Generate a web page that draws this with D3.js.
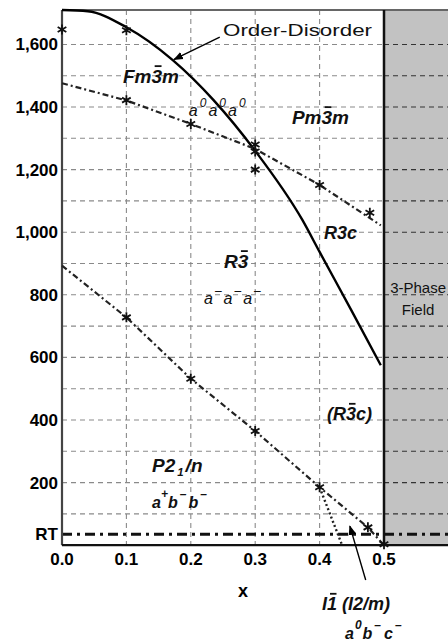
<!DOCTYPE html>
<html>
<head>
<meta charset="utf-8">
<script src="https://cdn.jsdelivr.net/npm/d3@7"></script>
<style>
  body { margin: 0; background: #fff; }
  svg { display: block; }
  text { font-family: "Liberation Sans", Arial, sans-serif; }
</style>
</head>
<body>
<div id="chart"></div>
<script>
// axis ticks
const xTicks = [0, 0.1, 0.2, 0.3, 0.4, 0.5];
const xTickLabels = ["0.0", "0.1", "0.2", "0.3", "0.4", "0.5"];
const yTicks = [200, 400, 600, 800, 1000, 1200, 1400, 1600];
const yTickLabels = ["200", "400", "600", "800", "1,000", "1,200", "1,400", "1,600"];
const gridX = [0.1, 0.2, 0.3, 0.4];
const gridY = [100, 200, 300, 400, 500, 600, 700, 800, 900, 1000, 1100, 1200, 1300, 1400, 1500, 1600];
const rtTemp = 35;
const threePhaseFrom = 0.5;

// order-disorder boundary (solid)
const odX = [0, 0.04, 0.1, 0.172, 0.235, 0.3, 0.373, 0.4, 0.45, 0.495];
const odT = [1710, 1706, 1655, 1550, 1423, 1260, 1040, 937, 748, 575];

// Fm3m / Pm3m -> R3bar / R3c tilt boundary (dash-dot, upper)
const upX = [0, 0.1, 0.2, 0.3, 0.4, 0.495];
const upT = [1476, 1421, 1346, 1266, 1151, 1022];

// R3bar -> P21/n boundary (dash-dot, lower)
const loX = [0, 0.1, 0.2, 0.3, 0.4, 0.475, 0.5];
const loT = [893, 728, 532, 365, 185, 57, 0];

// I-1 boundary (dotted)
const dotX = [0.4, 0.435];
const dotT = [185, 0];

// measured points (stars)
const starX = [0, 0.1, 0.1, 0.2, 0.3, 0.3, 0.3, 0.4, 0.478, 0.1, 0.2, 0.3, 0.4, 0.475, 0.5];
const starT = [1648, 1645, 1422, 1346, 1280, 1258, 1200, 1151, 1062, 728, 532, 365, 185, 57, 3];

const W = 448, H = 641;
const x = d3.scaleLinear().domain([0, 0.6]).range([62, 448.4]);
const y = d3.scaleLinear().domain([0, 1710]).range([545.2, 10]);

const svg = d3.select("#chart").append("svg").attr("width", W).attr("height", H);

// 3-phase field
svg.append("rect")
  .attr("x", x(threePhaseFrom)).attr("y", y(1710))
  .attr("width", x(0.6) - x(threePhaseFrom)).attr("height", y(0) - y(1710))
  .attr("fill", "#c2c2c2");

// grid
svg.append("g").selectAll("line").data(gridY).join("line")
  .attr("x1", x(0)).attr("x2", x(threePhaseFrom))
  .attr("y1", d => y(d)).attr("y2", d => y(d))
  .attr("stroke", "#8a8a8a").attr("stroke-width", 1.1).attr("stroke-dasharray", "5,4");
svg.append("g").selectAll("line").data(gridY).join("line")
  .attr("x1", x(threePhaseFrom)).attr("x2", x(0.6))
  .attr("y1", d => y(d)).attr("y2", d => y(d))
  .attr("stroke", "#333").attr("stroke-width", 1.1).attr("stroke-dasharray", "5,4");
svg.append("g").selectAll("line").data(gridX).join("line")
  .attr("x1", d => x(d)).attr("x2", d => x(d))
  .attr("y1", y(1710)).attr("y2", y(0))
  .attr("stroke", "#8a8a8a").attr("stroke-width", 1.1).attr("stroke-dasharray", "5,4");

// RT line
svg.append("line")
  .attr("x1", x(0)).attr("x2", x(0.6)).attr("y1", y(rtTemp)).attr("y2", y(rtTemp))
  .attr("stroke", "#111").attr("stroke-width", 3).attr("stroke-dasharray", "10,5,3,5");

// frame
svg.append("line").attr("x1", x(0)).attr("x2", x(0.6)).attr("y1", y(1710)).attr("y2", y(1710))
  .attr("stroke", "#666").attr("stroke-width", 2);
svg.append("line").attr("x1", x(0)).attr("x2", x(0)).attr("y1", y(1710)).attr("y2", y(0))
  .attr("stroke", "#444").attr("stroke-width", 2.2);
svg.append("line").attr("x1", x(0)).attr("x2", x(0.6)).attr("y1", y(0)).attr("y2", y(0))
  .attr("stroke", "#111").attr("stroke-width", 2.2);
svg.append("line").attr("x1", x(threePhaseFrom)).attr("x2", x(threePhaseFrom))
  .attr("y1", y(1710)).attr("y2", y(0))
  .attr("stroke", "#111").attr("stroke-width", 2.5);

// axes labels
svg.append("g").selectAll("text").data(yTicks).join("text")
  .attr("x", x(0) - 4).attr("y", d => y(d) + 6)
  .attr("text-anchor", "end").attr("font-size", 17).attr("font-weight", "bold")
  .text((d, i) => yTickLabels[i]);
svg.append("text").attr("x", x(0) - 4).attr("y", y(rtTemp) + 6)
  .attr("text-anchor", "end").attr("font-size", 17).attr("font-weight", "bold").text("RT");
svg.append("g").selectAll("text").data(xTicks).join("text")
  .attr("x", d => x(d)).attr("y", y(0) + 20)
  .attr("text-anchor", "middle").attr("font-size", 17).attr("font-weight", "bold")
  .text((d, i) => xTickLabels[i]);
svg.append("text").attr("x", x(0.281)).attr("y", y(-166))
  .attr("text-anchor", "middle").attr("font-size", 18).attr("font-weight", "bold").text("x");

// lines
const line = (xs, ts, curve) => d3.line().x((d, i) => x(xs[i])).y((d, i) => y(ts[i])).curve(curve || d3.curveLinear)(xs);

svg.append("path").attr("d", line(odX, odT, d3.curveMonotoneX))
  .attr("fill", "none").attr("stroke", "#000").attr("stroke-width", 2.4);
svg.append("path").attr("d", line(upX, upT))
  .attr("fill", "none").attr("stroke", "#222").attr("stroke-width", 2.2).attr("stroke-dasharray", "6,3,2,3");
svg.append("path").attr("d", line(loX, loT))
  .attr("fill", "none").attr("stroke", "#222").attr("stroke-width", 2.2).attr("stroke-dasharray", "6,3,2,3");
svg.append("path").attr("d", line(dotX, dotT))
  .attr("fill", "none").attr("stroke", "#222").attr("stroke-width", 2.4).attr("stroke-dasharray", "2,2.5");

// stars
svg.append("g").selectAll("path").data(starX).join("path")
  .attr("transform", (d, i) => `translate(${x(d)},${y(starT[i])})`)
  .attr("d", d3.symbol().type(d3.symbolAsterisk).size(70))
  .attr("fill", "none").attr("stroke", "#111").attr("stroke-width", 1.8);

// arrows
const defs = svg.append("defs");
defs.append("marker").attr("id", "ah").attr("viewBox", "0 0 10 10")
  .attr("refX", 9).attr("refY", 5).attr("markerWidth", 7).attr("markerHeight", 7)
  .attr("orient", "auto")
  .append("path").attr("d", "M0,1 L10,5 L0,9 z").attr("fill", "#000");
const arrows = [[0.245, 1623, 0.174, 1552], [0.4716, -111, 0.447, 61]];
svg.append("g").selectAll("line").data(arrows).join("line")
  .attr("x1", d => x(d[0])).attr("y1", d => y(d[1]))
  .attr("x2", d => x(d[2])).attr("y2", d => y(d[3]))
  .attr("stroke", "#000").attr("stroke-width", 1.4).attr("marker-end", "url(#ah)");

// rich text helper (sup / sub / overbar)
function rich(px, py, size, parts, opts) {
  opts = opts || {};
  const t = svg.append("text").attr("x", px).attr("y", py).attr("font-size", size)
    .attr("font-style", "italic").attr("font-weight", opts.bold ? "bold" : "normal").attr("fill", "#111");
  let cur = 0;
  parts.forEach(p => {
    const target = p.sup ? -size * 0.6 : (p.sub ? size * 0.22 : 0);
    t.append("tspan").attr("dy", target - cur).attr("dx", p.dx || 0)
      .attr("font-size", p.sup ? size * 0.75 : (p.sub ? size * 0.6 : size)).text(p.t);
    cur = target;
  });
  (opts.bar || []).forEach(i => {
    const e = t.node().getExtentOfChar(i);
    svg.append("line")
      .attr("x1", e.x + e.width * 0.3).attr("x2", e.x + e.width * 0.95)
      .attr("y1", py - size * 0.9).attr("y2", py - size * 0.9)
      .attr("stroke", "#111").attr("stroke-width", 1.8);
  });
  return t;
}

svg.append("text").attr("x", x(0.25)).attr("y", y(1626))
  .attr("font-family", "'DejaVu Sans', sans-serif").attr("font-size", 17).attr("fill", "#111")
  .attr("textLength", 149).attr("lengthAdjust", "spacingAndGlyphs").text("Order-Disorder");

rich(x(0.0947), y(1476), 19, [{t: "Fm3m"}], {bold: true, bar: [2]});
rich(x(0.357), y(1345), 19, [{t: "Pm3m"}], {bold: true, bar: [2]});
rich(x(0.407), y(978), 18, [{t: "R3c"}], {bold: true});
rich(x(0.2516), y(885), 19, [{t: "R3"}], {bold: true, bar: [1]});
rich(x(0.4115), y(400), 18, [{t: "(R3c)"}], {bold: true, bar: [2]});
rich(x(0.1398), y(234), 19, [{t: "P2"}, {t: "1", sub: true, dx: 2}, {t: "/n", dx: 2}], {bold: true});
rich(x(0.4037), y(-207), 18, [{t: "I1 (I2/m)"}], {bold: true, bar: [1]});

rich(x(0.197), y(1371), 16, [{t: "a"}, {t: "0", sup: true, dx: 2}, {t: "a", dx: 2}, {t: "0", sup: true, dx: 2}, {t: "a", dx: 2}, {t: "0", sup: true, dx: 2}]);
rich(x(0.2205), y(770), 16, [{t: "a"}, {t: "\u2013", sup: true, dx: 2}, {t: "a", dx: 2}, {t: "\u2013", sup: true, dx: 2}, {t: "a", dx: 2}, {t: "\u2013", sup: true, dx: 2}]);
rich(x(0.1398), y(119), 16, [{t: "a"}, {t: "+", sup: true, dx: 0}, {t: "b", dx: 0}, {t: "\u2013", sup: true, dx: 2}, {t: "b", dx: 2}, {t: "\u2013", sup: true, dx: 2}], {bold: true});
rich(x(0.4394), y(-300), 16, [{t: "a"}, {t: "0", sup: true, dx: 1}, {t: "b", dx: 1}, {t: "\u2013", sup: true, dx: 2}, {t: "c", dx: 3}, {t: "\u2013", sup: true, dx: 2}], {bold: true});

svg.append("text").attr("x", x(0.553)).attr("y", y(806)).attr("text-anchor", "middle")
  .attr("font-size", 15).attr("fill", "#111").text("3-Phase");
svg.append("text").attr("x", x(0.553)).attr("y", y(735)).attr("text-anchor", "middle")
  .attr("font-size", 15).attr("fill", "#111").text("Field");
</script>
</body>
</html>
